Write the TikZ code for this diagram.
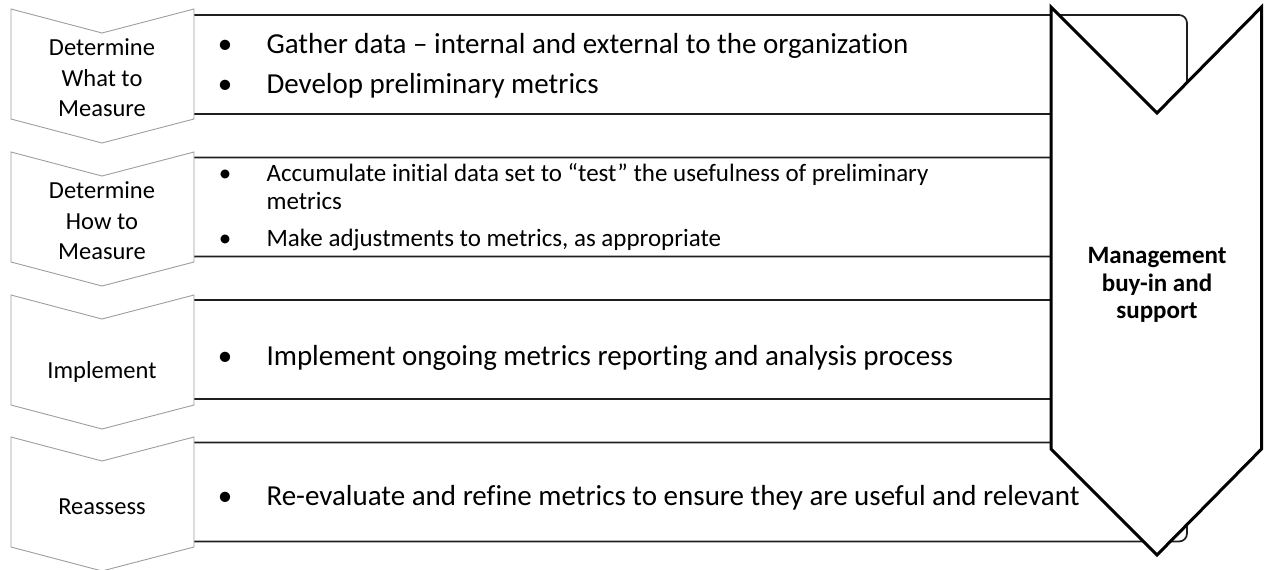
\documentclass[tikz,border=0pt]{standalone}
\usepackage{fontspec}
\setmainfont[Ligatures=NoCommon]{Carlito}
\begin{document}
\begin{tikzpicture}[x=1pt,y=-1pt,
  stage/.style={draw=black!38, line width=0.9pt, fill=white, line join=miter},
  rowbox/.style={draw=black!88, line width=1.7pt, rounded corners=8pt},
  support/.style={draw=black, line width=3pt, fill=white, line join=miter},
  stagelabel/.style={align=center, font=\fontsize{24.5}{30.5}\selectfont},
  bigtext/.style={anchor=base west, font=\fontsize{29}{28}\selectfont},
  smalltext/.style={anchor=base west, font=\fontsize{25}{26}\selectfont},
  bigdot/.style={anchor=base, font=\fontsize{29}{28}\selectfont},
  smalldot/.style={anchor=base, font=\fontsize{25}{26}\selectfont},
  supporttext/.style={align=center, font=\bfseries\fontsize{25}{27.5}\selectfont}]
\useasboundingbox (0,0) rectangle (1264,570);

% activity boxes, open on the left, rounded on the right
\foreach \t in {15,157.5,300,442.5}
  \draw[rowbox] (194,\t) -- (1187,\t) -- (1187,{\t+99}) -- (194,{\t+99});

% stage chevrons down the left side
\foreach \t/\nm/\txt/\dy in {9/s1/{Determine\\What to\\Measure}/69,
                             152/s2/{Determine\\How to\\Measure}/69,
                             295/s3/{Implement}/77,
                             437/s4/{Reassess}/70} {
  \draw[stage] (11,\t) -- (102,{\t+24}) -- (194,\t) -- (194,{\t+110})
               -- (102,{\t+134}) -- (11,{\t+110}) -- cycle;
  \node[stagelabel] (\nm) at (102,{\t+\dy}) {\txt};
}

% management support chevron on the right
\draw[support] (1051,7) -- (1157,113) -- (1261.5,7) -- (1261.5,449)
               -- (1157,555) -- (1051,449) -- cycle;
\node[supporttext] (mgmt) at (1157,285) {Management\\buy-in and\\support};

% row 1
\node[bigdot] (b1a) at (225,53) {•};
\node[bigtext] (t1a) at (263,53) {Gather data – internal and external to the organization};
\node[bigdot] (b1b) at (225,93) {•};
\node[bigtext] (t1b) at (263,93) {Develop preliminary metrics};

% row 2
\node[smalldot] (b2a) at (225,181) {•};
\node[smalltext] (t2a) at (263,181) {Accumulate initial data set to “test” the usefulness of preliminary};
\node[smalltext] (t2c) at (263,209) {metrics};
\node[smalldot] (b2b) at (225,246) {•};
\node[smalltext] (t2b) at (263,246) {Make adjustments to metrics, as appropriate};

% row 3
\node[bigdot] (b3) at (225,365) {•};
\node[bigtext] (t3) at (263,365) {Implement ongoing metrics reporting and analysis process};

% row 4
\node[bigdot] (b4) at (225,505) {•};
\node[bigtext] (t4) at (263,505) {Re-evaluate and refine metrics to ensure they are useful and relevant};
\end{tikzpicture}
\end{document}
